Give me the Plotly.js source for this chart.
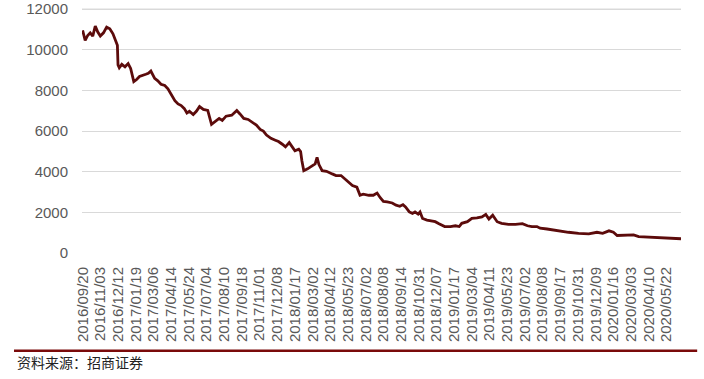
<!DOCTYPE html>
<html>
<head>
<meta charset="utf-8">
<script src="https://cdn.plot.ly/plotly-3.0.1.min.js"></script>
<style>html,body{margin:0;padding:0;background:#fff;}#chart{width:704px;height:379px;}</style>
</head>
<body>
<div id="chart"></div>
<script>
// trading-day index (approx.) of each sampled point
var dayIndex = [0,4,8,12,16,20,24,28,33,38,43,48,53,55,56,58,62,67,72,76,81,85,90,95,100,104,108,114,119,124,130,135,139,146,151,156,161,165,169,175,180,185,191,198,204,211,216,221,227,236,244,249,255,262,269,275,281,286,291,298,305,310,316,321,327,332,336,342,345,347,350,356,363,368,371,374,379,386,395,401,409,415,421,427,434,439,444,453,460,466,471,476,482,490,496,502,507,511,517,522,526,531,534,538,545,552,558,564,573,582,590,596,600,609,616,624,632,638,643,649,656,663,674,685,696,704,711,719,724,735,745,754,769,785,801,814,823,833,840,846,859,872,880,896,912,928,947];
var seriesValues = [10950,10460,10700,10830,10670,11160,10870,10670,10830,11110,11030,10780,10380,10220,9250,9110,9280,9160,9320,9080,8430,8520,8680,8720,8790,8840,8950,8590,8470,8300,8240,8080,7860,7490,7330,7250,7100,6890,6970,6810,6970,7200,7060,7010,6330,6490,6620,6520,6730,6780,7010,6840,6620,6570,6400,6290,6080,6000,5800,5640,5550,5480,5350,5220,5430,5220,5030,5110,4990,4540,4050,4140,4300,4380,4700,4350,4050,4020,3890,3810,3810,3650,3480,3320,3240,2840,2890,2840,2840,2950,2720,2540,2510,2460,2350,2300,2380,2270,2020,1950,2020,1910,2020,1700,1620,1590,1540,1440,1300,1300,1340,1300,1460,1540,1700,1730,1780,1900,1670,1860,1540,1460,1410,1410,1440,1340,1300,1300,1220,1180,1130,1070,1020,970,940,1020,970,1090,1020,860,890,890,810,790,760,730,700];
var tickLabels = ["2016/09/20","2016/11/03","2016/12/12","2017/01/19","2017/03/06","2017/04/14","2017/05/24","2017/07/04","2017/08/10","2017/09/18","2017/11/01","2017/12/08","2018/01/17","2018/03/02","2018/04/12","2018/05/23","2018/07/02","2018/08/08","2018/09/14","2018/10/31","2018/12/07","2019/01/17","2019/03/04","2019/04/11","2019/05/23","2019/07/02","2019/08/08","2019/09/17","2019/10/31","2019/12/09","2020/01/16","2020/03/03","2020/04/10","2020/05/22"];
var tickStep = 28;
var yTicks = [0,2000,4000,6000,8000,10000,12000];
var yTickLabels = ["0","2000","4000","6000","8000","10000","12000"];
var yMax = 12000;
var sourceText = "资料来源：招商证券";

var tickVals = tickLabels.map(function(_, i){ return i * tickStep; });

var trace = {
  x: dayIndex,
  y: seriesValues,
  type: 'scatter',
  mode: 'lines',
  line: {color: '#5c0b0b', width: 2.8},
  hoverinfo: 'skip'
};

var layout = {
  width: 704, height: 379,
  margin: {l: 82, r: 23, t: 7, b: 126},
  paper_bgcolor: '#ffffff', plot_bgcolor: '#ffffff',
  showlegend: false,
  font: {family: '"Liberation Sans", Arial, sans-serif', color: '#595959'},
  xaxis: {
    range: [-1, 947],
    tickmode: 'array', tickvals: tickVals, ticktext: tickLabels,
    tickangle: -90,
    tickfont: {size: 15, color: '#595959'},
    ticks: 'outside', ticklen: 7, tickcolor: 'rgba(0,0,0,0)',
    showgrid: false, zeroline: false, showline: false,
    fixedrange: true
  },
  yaxis: {
    range: [0, 12100],
    tickmode: 'array', tickvals: yTicks, ticktext: yTickLabels,
    tickfont: {size: 15, color: '#595959'},
    ticklabeloverflow: 'allow',
    ticks: 'outside', ticklen: 10, tickcolor: 'rgba(0,0,0,0)',
    showgrid: true, gridcolor: '#d9d9d9', gridwidth: 1,
    zeroline: false, showline: false,
    fixedrange: true
  },
  shapes: [{
    type: 'line', xref: 'paper', yref: 'y', layer: 'below',
    x0: 0, x1: 1, y0: yMax, y1: yMax,
    line: {color: '#d9d9d9', width: 1}
  }, {
    type: 'line', xref: 'paper', yref: 'paper',
    x0: -0.1135, x1: 1.027, y0: -0.397, y1: -0.397,
    line: {color: '#7a0a0a', width: 2.5}
  }],
  annotations: [{
    text: sourceText, xref: 'paper', yref: 'paper',
    x: -0.112, y: -0.445, xanchor: 'left', yanchor: 'middle',
    showarrow: false,
    font: {family: '"Noto Sans CJK SC", sans-serif', size: 14, color: '#222222'}
  }]
};

Plotly.newPlot('chart', [trace], layout, {displayModeBar: false, staticPlot: true});
</script>
</body>
</html>
